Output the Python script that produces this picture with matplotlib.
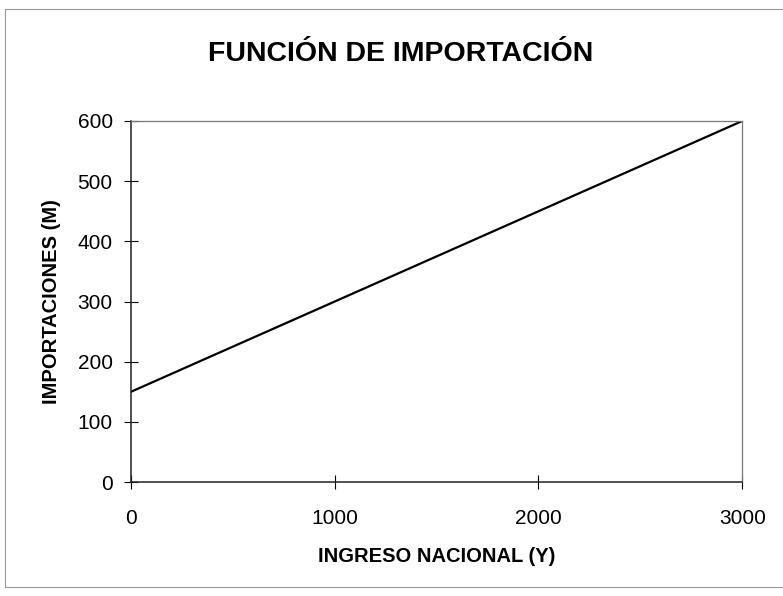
import numpy as np
import matplotlib.pyplot as plt
from matplotlib.patches import Rectangle

plt.rcParams['font.family'] = ['Liberation Sans', 'DejaVu Sans']

ingreso = [0, 1000, 2000, 3000]
importaciones = [150, 300, 450, 600]
x_ticks = [0, 1000, 2000, 3000]
y_ticks = [0, 100, 200, 300, 400, 500, 600]

fig = plt.figure(figsize=(7.83, 5.96), dpi=100)
ax = fig.add_axes([0.167, 0.191, 0.781, 0.606])

ax.plot(ingreso, importaciones, color='black', lw=1.6)

ax.set_xlim(0, 3000)
ax.set_ylim(0, 600)
ax.set_xticks(x_ticks)
ax.set_yticks(y_ticks)
ax.tick_params(direction='inout', length=10, width=0.8, labelsize=15)
ax.tick_params(axis='x', pad=14)
ax.tick_params(axis='y', pad=8)

for side in ['left', 'bottom']:
    ax.spines[side].set_color('#222222')
    ax.spines[side].set_linewidth(1.1)
for side in ['top', 'right']:
    ax.spines[side].set_color('#777777')
    ax.spines[side].set_linewidth(0.9)

ax.set_xlabel('INGRESO NACIONAL (Y)', fontsize=14.5, fontweight='bold', labelpad=14)
ax.set_ylabel('IMPORTACIONES (M)', fontsize=14.5, fontweight='bold', labelpad=12)
fig.text(0.512, 0.91, 'FUNCIÓN DE IMPORTACIÓN', fontsize=20.5, fontweight='bold',
         ha='center', va='center')

# borde del área del gráfico
fig.patches.append(Rectangle((0.007, 0.015), 1.2, 0.97, transform=fig.transFigure,
                             fill=False, edgecolor='#999999', lw=0.8))

fig.savefig('out.png', dpi=100)
